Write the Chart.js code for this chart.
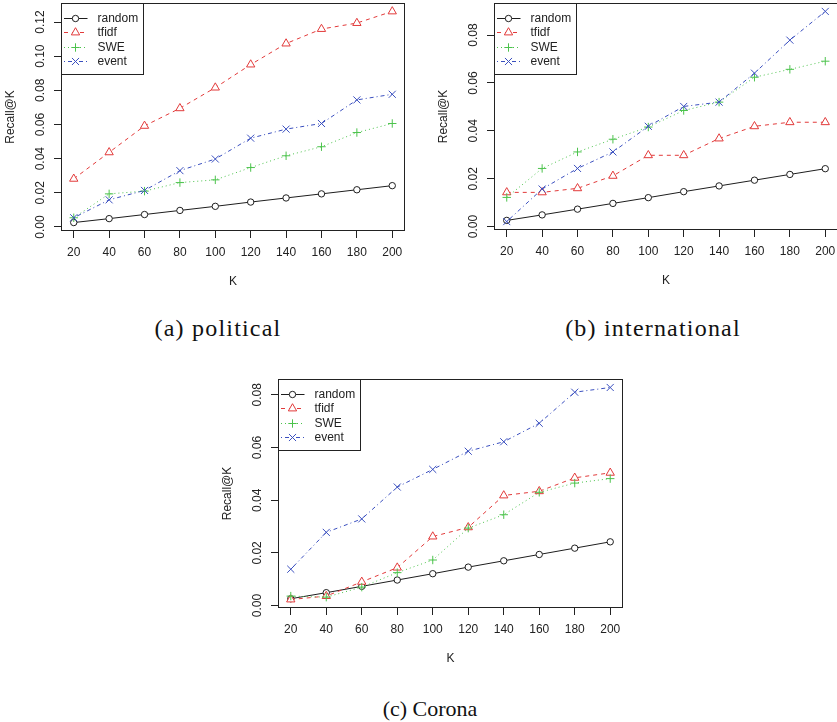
<!DOCTYPE html>
<html>
<head>
<meta charset="utf-8">
<script src="https://cdn.jsdelivr.net/npm/chart.js@4.4.1/dist/chart.umd.min.js"></script>
<style>
  html, body { margin: 0; padding: 0; background: #fff; overflow: hidden; }
  body { width: 837px; height: 722px; position: relative; }
  .panel { position: absolute; width: 420px; height: 300px; }
  .caption {
    position: absolute;
    font-family: "Liberation Serif", "Times New Roman", serif;
    font-size: 24px;
    letter-spacing: 1.2px;
    color: #111;
    white-space: nowrap;
    transform: translate(-50%, -50%);
  }
  .caption.small { font-size: 22px; letter-spacing: 0; }
</style>
</head>
<body>
<div class="panel" style="left:0px;top:0px"><canvas id="political" width="420" height="300"></canvas></div>
<div class="panel" style="left:420px;top:0px"><canvas id="international" width="420" height="300"></canvas></div>
<div class="panel" style="left:210px;top:370px"><canvas id="corona" width="420" height="300"></canvas></div>
<div class="caption" style="left:218px;top:328px">(a) political</div>
<div class="caption" style="left:653px;top:328px">(b) international</div>
<div class="caption small" style="left:430px;top:709px">(c) Corona</div>

<script>
const kValues = [20, 40, 60, 80, 100, 120, 140, 160, 180, 200]
const seriesNames = ["random", "tfidf", "SWE", "event"]

// random baseline is the same in all three panels
const randomRecall = [0.0026, 0.0049, 0.0073, 0.0097, 0.0121, 0.0146, 0.0170, 0.0194, 0.0218, 0.0242]

// (a) political
const politicalTfidf = [0.0282, 0.0437, 0.0592, 0.0695, 0.0816, 0.0951, 0.1074, 0.1159, 0.1194, 0.1262]
const politicalSWE = [0.0054, 0.0194, 0.0210, 0.0260, 0.0276, 0.0348, 0.0417, 0.0470, 0.0553, 0.0606]
const politicalEvent = [0.0054, 0.0159, 0.0214, 0.0330, 0.0398, 0.0520, 0.0573, 0.0606, 0.0744, 0.0777]
const politicalTicks = [0, 0.02, 0.04, 0.06, 0.08, 0.10, 0.12]

// (b) international
const internationalTfidf = [0.0143, 0.0143, 0.0160, 0.0212, 0.0298, 0.0298, 0.0368, 0.0419, 0.0436, 0.0436]
const internationalSWE = [0.0122, 0.0243, 0.0312, 0.0365, 0.0416, 0.0485, 0.0520, 0.0624, 0.0657, 0.0691]
const internationalEvent = [0.0021, 0.0157, 0.0243, 0.0312, 0.0419, 0.0502, 0.0520, 0.0641, 0.0779, 0.0899]
const internationalTicks = [0, 0.02, 0.04, 0.06, 0.08]

// (c) Corona
const coronaTfidf = [0.0023, 0.0036, 0.0090, 0.0144, 0.0262, 0.0297, 0.0418, 0.0434, 0.0485, 0.0504]
const coronaSWE = [0.0036, 0.0032, 0.0070, 0.0125, 0.0173, 0.0294, 0.0345, 0.0430, 0.0465, 0.0482]
const coronaEvent = [0.0138, 0.0278, 0.0329, 0.0450, 0.0517, 0.0586, 0.0622, 0.0692, 0.0810, 0.0828]
const coronaTicks = [0, 0.02, 0.04, 0.06, 0.08]

const FONT = '"Liberation Sans", Arial, Helvetica, sans-serif'
const INK = "#222"

const styles = [
  { color: "#1e1e1e", dash: [], point: "circle", radius: 3.2 },
  { color: "#e23a3a", dash: [4, 4], point: "triangle", radius: 4.8 },
  { color: "#4cc34c", dash: [1, 3], point: "cross", radius: 4.2 },
  { color: "#3a4fbf", dash: [1, 3, 4, 3], point: "crossRot", radius: 5 },
]

Chart.defaults.font.family = FONT
Chart.defaults.font.size = 12
Chart.defaults.color = INK

// R-style frame round the plot and legend in the top-left corner
const rFrame = {
  id: "rFrame",
  afterDatasetsDraw(chart) {
    const { ctx, chartArea: a } = chart
    ctx.save()
    ctx.lineWidth = 1
    ctx.strokeStyle = INK
    ctx.setLineDash([])
    ctx.strokeRect(a.left + 0.5, a.top + 0.5, a.right - a.left - 1, a.bottom - a.top - 1)

    const x0 = a.left + 0.5
    const y0 = a.top + 0.5
    ctx.fillStyle = "#fff"
    ctx.fillRect(x0, y0, 82, 71)
    ctx.strokeRect(x0, y0, 82, 71)

    ctx.font = "12px " + FONT
    ctx.textBaseline = "middle"
    ctx.textAlign = "left"
    seriesNames.forEach((name, i) => {
      const st = styles[i]
      const y = Math.round(y0 + 14 + i * 14.6) + 0.5
      ctx.strokeStyle = st.color
      ctx.setLineDash(st.dash)
      ctx.beginPath()
      ctx.moveTo(x0 + 2.5, y)
      ctx.lineTo(x0 + 26, y)
      ctx.stroke()
      ctx.setLineDash([])
      ctx.strokeStyle = st.color
      ctx.fillStyle = "#fff"
      Chart.helpers.drawPoint(ctx, { pointStyle: st.point, radius: st.radius, rotation: 0, borderWidth: 1 }, x0 + 14, y)
      ctx.fillStyle = INK
      ctx.fillText(name, x0 + 36, y)
    })
    ctx.restore()
  },
}

function makePanel(id, box, series, yTicks) {
  const canvas = document.getElementById(id)
  const W = canvas.width
  const H = canvas.height

  // R pads the data range by 4% on each side
  const all = series.flat()
  const yLo = Math.min(...all)
  const yHi = Math.max(...all)
  const yPad = (yHi - yLo) * 0.04
  const xPad = (kValues[kValues.length - 1] - kValues[0]) * 0.04

  const datasets = series.map((vals, i) => ({
    label: seriesNames[i],
    data: kValues.map((k, j) => ({ x: k, y: vals[j] })),
    borderColor: styles[i].color,
    borderWidth: 1,
    borderDash: styles[i].dash,
    pointStyle: styles[i].point,
    pointRadius: styles[i].radius,
    pointBorderColor: styles[i].color,
    pointBackgroundColor: "#fff",
    pointBorderWidth: 1,
    tension: 0,
    fill: false,
    order: series.length - i,
  }))

  const noPad = (s) => {
    s.paddingTop = 0
    s.paddingBottom = 0
    s.paddingLeft = 0
    s.paddingRight = 0
  }

  return new Chart(canvas, {
    type: "line",
    data: { datasets },
    options: {
      responsive: false,
      animation: false,
      events: [],
      layout: {
        autoPadding: false,
        padding: { left: 0, top: box.t, right: W - box.r, bottom: 0 },
      },
      plugins: { legend: { display: false }, tooltip: { enabled: false } },
      scales: {
        x: {
          type: "linear",
          min: kValues[0] - xPad,
          max: kValues[kValues.length - 1] + xPad,
          afterBuildTicks: (s) => {
            s.ticks = kValues.map((v) => ({ value: v }))
          },
          afterFit: (s) => {
            s.height = H - box.b
            noPad(s)
          },
          grid: { drawOnChartArea: false, drawTicks: true, tickLength: 7, color: INK, lineWidth: 1 },
          border: { display: false },
          ticks: { autoSkip: false, maxRotation: 0, padding: 7, color: INK, callback: (v) => String(v) },
          title: { display: true, text: "K", color: INK, font: { size: 12 }, padding: { top: 0, bottom: H - box.b - 51 - 7.2 } },
        },
        y: {
          type: "linear",
          min: yLo - yPad,
          max: yHi + yPad,
          afterBuildTicks: (s) => {
            s.ticks = yTicks.map((v) => ({ value: v }))
          },
          afterFit: (s) => {
            s.width = box.l
            noPad(s)
          },
          grid: { drawOnChartArea: false, drawTicks: true, tickLength: 7, color: INK, lineWidth: 1 },
          border: { display: false },
          ticks: {
            autoSkip: false,
            minRotation: 90,
            maxRotation: 90,
            crossAlign: "center",
            padding: 2,
            color: INK,
            callback: (v) => Number(v).toFixed(2),
          },
          title: { display: true, text: "Recall@K", color: INK, font: { size: 12 }, padding: { top: box.l - 57.2, bottom: 0 } },
        },
      },
    },
    plugins: [rFrame],
  })
}

makePanel("political", { l: 61, t: 3, r: 405, b: 231 },
  [randomRecall, politicalTfidf, politicalSWE, politicalEvent], politicalTicks)
makePanel("international", { l: 74, t: 3, r: 418, b: 230 },
  [randomRecall, internationalTfidf, internationalSWE, internationalEvent], internationalTicks)
makePanel("corona", { l: 68, t: 9, r: 413, b: 238 },
  [randomRecall, coronaTfidf, coronaSWE, coronaEvent], coronaTicks)
</script>
</body>
</html>
